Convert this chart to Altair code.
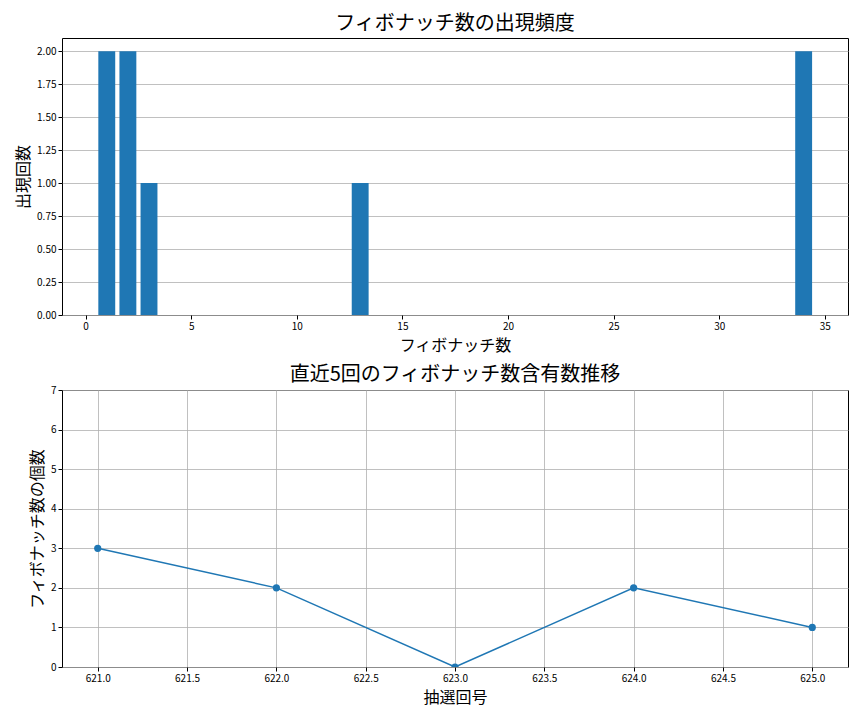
import altair as alt
import pandas as pd

# Top chart data
fib_numbers = [1, 2, 3, 13, 34]
fib_counts = [2, 2, 1, 1, 2]

# Bottom chart data
draw_ids = [621, 622, 623, 624, 625]
fib_in_draw = [3, 2, 0, 2, 1]

FONT = "Noto Sans CJK JP"
BLUE = "#1f77b4"

bar_df = pd.DataFrame({"num": fib_numbers, "count": fib_counts})
line_df = pd.DataFrame({"draw": draw_ids, "n": fib_in_draw})

axis_common = dict(
    labelFont=FONT, labelFontSize=10, labelColor="#000000",
    titleFont=FONT, titleFontSize=16, titleFontWeight="normal", titleColor="#000000",
    tickColor="#000000", tickSize=4, domain=False,
    gridColor="#b0b0b0", gridWidth=0.8,
)

top = alt.Chart(bar_df).transform_calculate(
    x0="datum.num - 0.4", x1="datum.num + 0.4"
).mark_bar(color=BLUE).encode(
    x=alt.X("x0:Q",
            scale=alt.Scale(domain=[-1.12, 36.1], nice=False, zero=False),
            axis=alt.Axis(title="フィボナッチ数", values=[0, 5, 10, 15, 20, 25, 30, 35],
                          format="d", grid=False, titlePadding=6, **axis_common)),
    x2="x1:Q",
    y=alt.Y("count:Q",
            scale=alt.Scale(domain=[0, 2.1], nice=False),
            axis=alt.Axis(title="出現回数", values=[0, 0.25, 0.5, 0.75, 1.0, 1.25, 1.5, 1.75, 2.0],
                          format=".2f", grid=True, titlePadding=5, **axis_common)),
    y2=alt.datum(0),
).properties(
    width=786, height=277,
    title=alt.TitleParams("フィボナッチ数の出現頻度", font=FONT, fontSize=20,
                          fontWeight="normal", color="#000000", offset=4, frame="group"),
)

base = alt.Chart(line_df).encode(
    x=alt.X("draw:Q",
            scale=alt.Scale(domain=[620.8, 625.2], nice=False, zero=False),
            axis=alt.Axis(title="抽選回号", values=[621, 621.5, 622, 622.5, 623, 623.5, 624, 624.5, 625],
                          format=".1f", grid=True, titlePadding=6, **axis_common)),
    y=alt.Y("n:Q",
            scale=alt.Scale(domain=[0, 7], nice=False),
            axis=alt.Axis(title="フィボナッチ数の個数", values=[0, 1, 2, 3, 4, 5, 6, 7],
                          format="d", grid=True, titlePadding=5, **axis_common)),
)
bottom = alt.layer(
    base.mark_line(color=BLUE, strokeWidth=1.5, clip=True),
    base.mark_point(color=BLUE, filled=True, size=52, opacity=1, clip=True),
).properties(
    width=786, height=277,
    title=alt.TitleParams("直近5回のフィボナッチ数含有数推移", font=FONT, fontSize=20,
                          fontWeight="normal", color="#000000", offset=0, frame="group"),
)

chart = alt.vconcat(top, bottom, spacing=10).properties(
    padding={"left": 7, "top": 5, "right": 5, "bottom": 5}
).configure(
    background="white"
).configure_view(
    stroke="#000000", strokeWidth=1
)

chart.save("out.html", embed_options={"renderer": "svg", "actions": False})
